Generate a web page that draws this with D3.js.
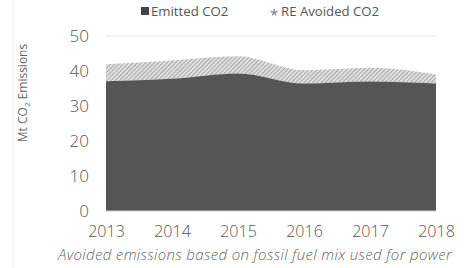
<!doctype html>
<html>
<head>
<meta charset="utf-8">
<title>CO2 emissions</title>
<style>
  body { margin: 0; background: #fff; }
  text { font-family: "Open Sans", "Noto Sans", sans-serif; }
</style>
</head>
<body>
<div id="chart"></div>
<script src="https://cdnjs.cloudflare.com/ajax/libs/d3/7.8.5/d3.min.js"></script>
<script>
// data
var years = [2013, 2014, 2015, 2016, 2017, 2018];
var emitted = [37.1, 37.8, 39.3, 36.4, 37.0, 36.4];
var avoided = [4.8, 5.2, 4.9, 3.8, 3.9, 2.6];
var yTicks = [0, 10, 20, 30, 40, 50];
var seriesNames = ["Emitted CO2", "RE Avoided CO2"];

var width = 464, height = 268;
var margin = {top: 36, right: 28, bottom: 57, left: 106};
var font = "'Open Sans', 'Noto Sans', sans-serif";

var svg = d3.select("#chart").append("svg")
  .attr("width", width).attr("height", height);

// hatch pattern for avoided
var defs = svg.append("defs");
var pat = defs.append("pattern")
  .attr("id", "hatch")
  .attr("patternUnits", "userSpaceOnUse")
  .attr("width", 3).attr("height", 3)
  .attr("patternTransform", "rotate(45)");
pat.append("rect").attr("width", 3).attr("height", 3).attr("fill", "#e0e0e0");
pat.append("line").attr("x1", 0).attr("y1", 0).attr("x2", 0).attr("y2", 3)
  .attr("stroke", "#888").attr("stroke-width", 1.3);

var x = d3.scaleLinear()
  .domain([years[0], years[years.length - 1]])
  .range([margin.left, width - margin.right]);
var y = d3.scaleLinear()
  .domain([0, 50])
  .range([height - margin.bottom, margin.top]);

// faint frame line on the left
svg.append("line")
  .attr("x1", 13).attr("x2", 13).attr("y1", 0).attr("y2", height)
  .attr("stroke", "#f0f0f0");

// gridline at top
svg.append("line")
  .attr("x1", x.range()[0]).attr("x2", x.range()[1])
  .attr("y1", y(50)).attr("y2", y(50))
  .attr("stroke", "#e4e4e4").attr("stroke-width", 1.2);

var rows = years.map(function(yr, i) {
  return {year: yr, emitted: emitted[i], avoided: avoided[i]};
});

// avoided area stacked on top
var areaTop = d3.area()
  .x(function(d) { return x(d.year); })
  .y0(function(d) { return y(d.emitted); })
  .y1(function(d) { return y(d.emitted + d.avoided); })
  .curve(d3.curveMonotoneX);
svg.append("path")
  .attr("d", areaTop(rows))
  .attr("fill", "url(#hatch)");

var areaBottom = d3.area()
  .x(function(d) { return x(d.year); })
  .y0(y(0))
  .y1(function(d) { return y(d.emitted); })
  .curve(d3.curveMonotoneX);
svg.append("path")
  .attr("d", areaBottom(rows))
  .attr("fill", "#555555");

// baseline
svg.append("line")
  .attr("x1", x.range()[0]).attr("x2", x.range()[1])
  .attr("y1", y(0)).attr("y2", y(0))
  .attr("stroke", "#cfcfcf").attr("stroke-width", 1.2);

// y axis
var yAxis = svg.append("g")
  .attr("transform", "translate(" + (margin.left - 17) + ",0)")
  .call(d3.axisLeft(y).tickValues(yTicks).tickSize(0).tickPadding(0));
yAxis.select(".domain").remove();
yAxis.selectAll("text")
  .attr("font-size", 17).attr("font-weight", 300).attr("fill", "#555")
  .attr("font-family", font);

// x axis
var xAxis = svg.append("g")
  .attr("transform", "translate(0," + (y(0) + 8) + ")")
  .call(d3.axisBottom(x).tickValues(years).tickFormat(d3.format("d")).tickSize(0).tickPadding(7));
xAxis.select(".domain").remove();
xAxis.selectAll("text")
  .attr("font-size", 16).attr("font-weight", 300).attr("fill", "#555")
  .attr("font-family", font);

// y title
svg.append("text")
  .attr("transform", "translate(27,93) rotate(-90)")
  .attr("text-anchor", "middle")
  .attr("font-size", 12).attr("fill", "#666")
  .html('Mt CO<tspan font-size="8" dy="3">2</tspan><tspan dy="-3"> Emissions</tspan>');

// caption
svg.append("text")
  .attr("x", 58).attr("y", 260)
  .attr("font-size", 15).attr("font-style", "italic").attr("font-weight", 300)
  .attr("letter-spacing", 0.35)
  .attr("fill", "#666")
  .text("Avoided emissions based on fossil fuel mix used for power");

// legend
var lg = svg.append("g");
lg.append("rect").attr("x", 141).attr("y", 7).attr("width", 8).attr("height", 8).attr("fill", "#444");
lg.append("text").attr("x", 151).attr("y", 16).attr("font-size", 13.2).attr("fill", "#555").text(seriesNames[0]);
lg.append("text").attr("x", 270).attr("y", 20).attr("font-size", 15).attr("fill", "#777").text("*");
lg.append("text").attr("x", 281).attr("y", 16).attr("font-size", 13.2).attr("fill", "#555").text(seriesNames[1]);
</script>
</body>
</html>
